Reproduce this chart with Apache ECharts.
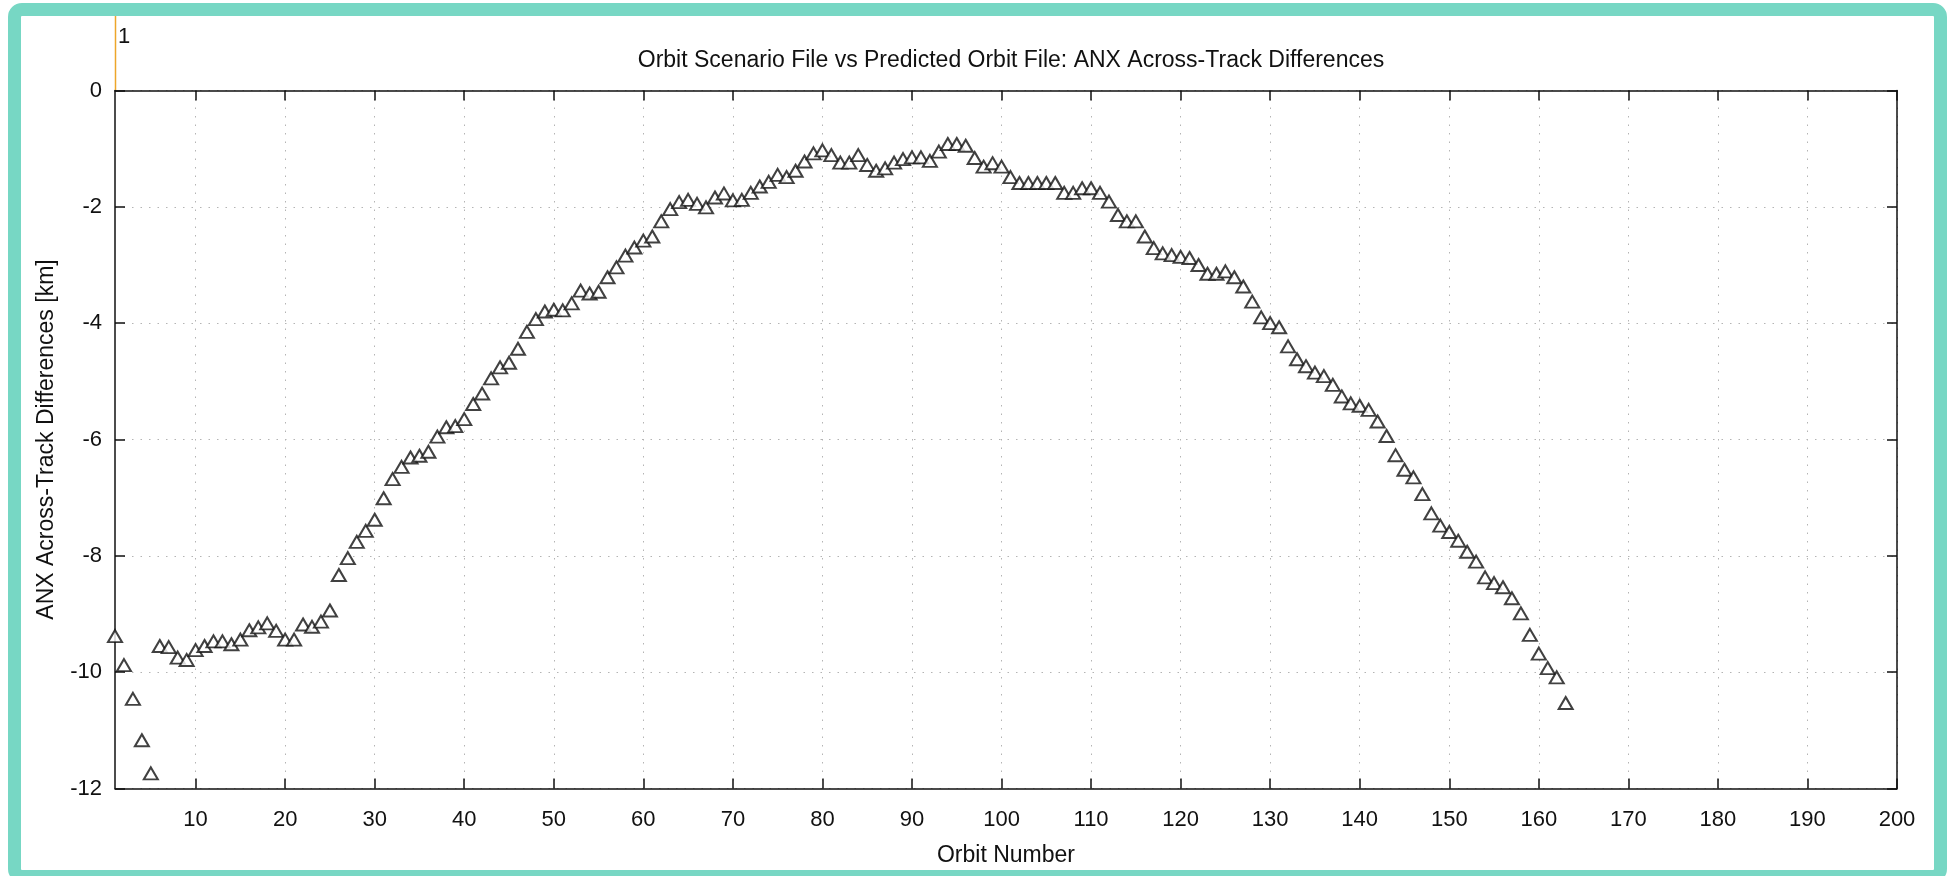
<!DOCTYPE html>
<html>
<head>
<meta charset="utf-8">
<script src="https://cdn.jsdelivr.net/npm/echarts@6/dist/echarts.min.js"></script>
<style>
html,body{margin:0;padding:0;background:#fff;overflow:hidden;}
#chart{position:absolute;left:0;top:0;width:1947px;height:876px;}
#frame{position:absolute;left:8px;top:3px;width:1939px;height:880px;box-sizing:border-box;border:13px solid #77d7c4;border-radius:14px;pointer-events:none;}
</style>
</head>
<body>
<div id="chart"></div>
<div id="frame"></div>
<script>
const titleText = 'Orbit Scenario File vs Predicted Orbit File: ANX Across-Track Differences';
const xAxisName = 'Orbit Number';
const yAxisName = 'ANX Across-Track Differences [km]';
const xTicks = [10,20,30,40,50,60,70,80,90,100,110,120,130,140,150,160,170,180,190,200];
const yTicks = [-12,-10,-8,-6,-4,-2,0];
const orbits = [1,2,3,4,5,6,7,8,9,10,11,12,13,14,15,16,17,18,19,20,
21,22,23,24,25,26,27,28,29,30,31,32,33,34,35,36,37,38,39,40,
41,42,43,44,45,46,47,48,49,50,51,52,53,54,55,56,57,58,59,60,
61,62,63,64,65,66,67,68,69,70,71,72,73,74,75,76,77,78,79,80,
81,82,83,84,85,86,87,88,89,90,91,92,93,94,95,96,97,98,99,100,
101,102,103,104,105,106,107,108,109,110,111,112,113,114,115,116,117,118,119,120,
121,122,123,124,125,126,127,128,129,130,131,132,133,134,135,136,137,138,139,140,
141,142,143,144,145,146,147,148,149,150,151,152,153,154,155,156,157,158,159,160,
161,162,163];
const anxDiff = [-9.38,-9.88,-10.46,-11.17,-11.74,-9.55,-9.57,-9.75,-9.79,-9.62,
-9.55,-9.47,-9.47,-9.52,-9.44,-9.28,-9.23,-9.16,-9.29,-9.44,
-9.44,-9.18,-9.22,-9.13,-8.94,-8.33,-8.04,-7.76,-7.57,-7.38,
-7.01,-6.68,-6.47,-6.31,-6.28,-6.21,-5.95,-5.79,-5.77,-5.65,
-5.39,-5.21,-4.95,-4.76,-4.68,-4.44,-4.15,-3.93,-3.80,-3.77,
-3.78,-3.66,-3.44,-3.49,-3.46,-3.21,-3.04,-2.84,-2.70,-2.58,
-2.51,-2.25,-2.04,-1.92,-1.88,-1.95,-2.01,-1.84,-1.77,-1.89,
-1.88,-1.76,-1.65,-1.57,-1.45,-1.49,-1.38,-1.22,-1.08,-1.03,
-1.11,-1.24,-1.24,-1.11,-1.28,-1.38,-1.34,-1.24,-1.18,-1.15,
-1.15,-1.21,-1.05,-0.92,-0.92,-0.95,-1.16,-1.31,-1.25,-1.31,
-1.49,-1.59,-1.59,-1.59,-1.59,-1.59,-1.76,-1.76,-1.68,-1.68,
-1.76,-1.91,-2.14,-2.25,-2.25,-2.51,-2.71,-2.80,-2.83,-2.86,
-2.88,-3.00,-3.15,-3.15,-3.11,-3.21,-3.37,-3.63,-3.90,-4.00,
-4.07,-4.40,-4.62,-4.74,-4.85,-4.91,-5.06,-5.26,-5.38,-5.42,
-5.49,-5.69,-5.94,-6.27,-6.52,-6.65,-6.94,-7.27,-7.48,-7.59,
-7.74,-7.93,-8.10,-8.37,-8.47,-8.54,-8.73,-8.99,-9.36,-9.68,
-9.93,-10.09,-10.53];

const FONT = '"Liberation Sans", Arial, Helvetica, sans-serif';
const points = orbits.map((o, i) => [o, anxDiff[i]]);

const chart = echarts.init(document.getElementById('chart'), null, {renderer: 'canvas'});

const gridLine = {show: true, lineStyle: {color: '#b4b4b4', width: 1, type: [1.5, 7]}};
const axisLine = {show: true, onZero: false, lineStyle: {color: '#111', width: 1.5}};
const tick = (vals) => ({show: true, inside: true, length: 10, customValues: vals, lineStyle: {color: '#111', width: 1.5}});

chart.setOption({
  animation: false,
  backgroundColor: '#fff',
  title: {
    text: titleText,
    left: 1006,
    top: 44,
    textAlign: 'center',
    textStyle: {fontFamily: FONT, fontSize: 23, fontWeight: 'normal', color: '#111'}
  },
  grid: {left: 115, right: 50, top: 90.5, bottom: 87.5, containLabel: false},
  xAxis: [
    {
      type: 'value', min: 1, max: 200, position: 'bottom',
      name: xAxisName, nameLocation: 'middle', nameGap: 56,
      nameTextStyle: {fontFamily: FONT, fontSize: 23, color: '#111'},
      axisLine: axisLine,
      axisTick: tick(xTicks),
      axisLabel: {customValues: xTicks, fontFamily: FONT, fontSize: 22, color: '#111', margin: 20},
      splitLine: gridLine
    },
    {
      type: 'value', min: 1, max: 200, position: 'top',
      axisLine: axisLine,
      axisTick: tick(xTicks),
      axisLabel: {show: false},
      splitLine: {show: false}
    }
  ],
  yAxis: [
    {
      type: 'value', min: -12, max: 0, interval: 2, position: 'left',
      name: yAxisName, nameLocation: 'middle', nameGap: 57,
      nameTextStyle: {fontFamily: FONT, fontSize: 23, color: '#111'},
      axisLine: axisLine,
      axisTick: tick(yTicks),
      axisLabel: {customValues: yTicks, fontFamily: FONT, fontSize: 22, color: '#111', margin: 13},
      splitLine: gridLine
    },
    {
      type: 'value', min: -12, max: 0, interval: 2, position: 'right',
      axisLine: axisLine,
      axisTick: tick(yTicks),
      axisLabel: {show: false},
      splitLine: {show: false}
    }
  ],
  graphic: [
    {type: 'line', shape: {x1: 115.5, y1: 15, x2: 115.5, y2: 90}, style: {stroke: '#eda62a', lineWidth: 1.5}, z: 10},
    {type: 'text', left: 118, top: 26, style: {text: '1', fontFamily: FONT, fontSize: 22, fill: '#111'}, z: 10}
  ],
  series: [{
    type: 'scatter',
    xAxisIndex: 0, yAxisIndex: 0,
    data: points,
    symbol: 'triangle',
    symbolSize: [14, 12],
    itemStyle: {color: '#fff', borderColor: '#111', borderWidth: 2},
    emphasis: {disabled: true}
  }]
});
</script>
</body>
</html>
